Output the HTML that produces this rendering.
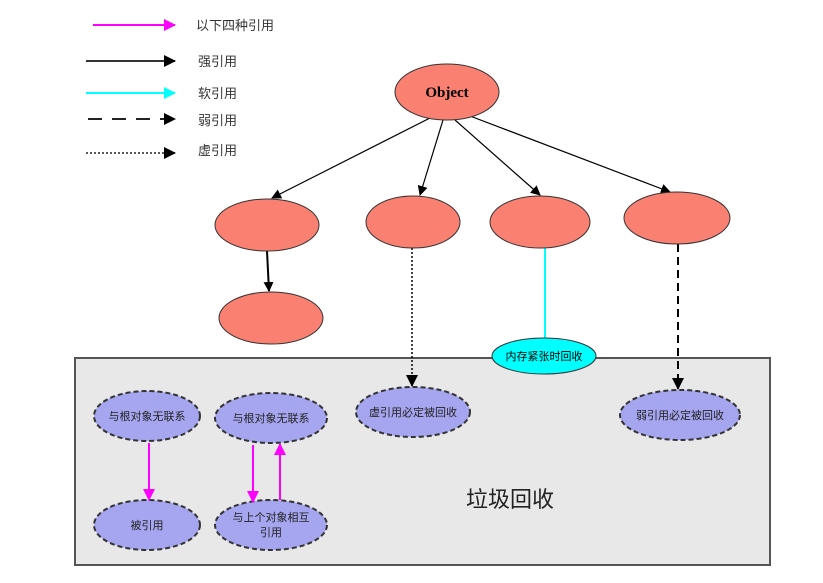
<!DOCTYPE html>
<html><head><meta charset="utf-8"><style>body{margin:0;background:#fff}svg{display:block}text{font-family:"Liberation Sans","Noto Sans CJK SC",sans-serif}</style></head><body>
<svg width="823" height="583" xmlns="http://www.w3.org/2000/svg">
<defs>
<marker id="ak" markerWidth="10" markerHeight="10" refX="9" refY="5" orient="auto" markerUnits="userSpaceOnUse"><path d="M0,0L10,5L0,10z" fill="#000"/></marker>
<marker id="am" markerWidth="12" markerHeight="12" refX="11" refY="6" orient="auto" markerUnits="userSpaceOnUse"><path d="M0,0L12,6L0,12z" fill="#f0f"/></marker>
<marker id="ac" markerWidth="12" markerHeight="12" refX="11" refY="6" orient="auto" markerUnits="userSpaceOnUse"><path d="M0,0L12,6L0,12z" fill="#0ff"/></marker>
<marker id="ak2" markerWidth="12" markerHeight="12" refX="11" refY="6" orient="auto" markerUnits="userSpaceOnUse"><path d="M0,0L12,6L0,12z" fill="#000"/></marker>
</defs>
<line x1="93" y1="25" x2="175" y2="25" stroke="#f0f" stroke-width="2" marker-end="url(#am)"/>
<text x="196" y="30" font-size="13" fill="#333">以下四种引用</text>
<line x1="86" y1="61" x2="175" y2="61" stroke="#333" stroke-width="2" marker-end="url(#ak2)"/>
<text x="198" y="66" font-size="13" fill="#333">强引用</text>
<line x1="86" y1="93" x2="175" y2="93" stroke="#0ff" stroke-width="2" marker-end="url(#ac)"/>
<text x="198" y="98" font-size="13" fill="#333">软引用</text>
<line x1="88" y1="119" x2="175" y2="119" stroke="#222" stroke-width="2" stroke-dasharray="14,10" marker-end="url(#ak2)"/>
<text x="198" y="125" font-size="13" fill="#333">弱引用</text>
<line x1="86" y1="153" x2="175" y2="153" stroke="#222" stroke-width="1.5" stroke-dasharray="2,2" marker-end="url(#ak2)"/>
<text x="198" y="155" font-size="13" fill="#333">虚引用</text>
<rect x="75" y="358" width="695" height="207" fill="#e8e8e8" stroke="#555" stroke-width="2"/>
<text x="510" y="507" font-size="22" fill="#222" text-anchor="middle">垃圾回收</text>
<g stroke="#000" stroke-width="1.2" marker-end="url(#ak)">
<line x1="430" y1="118" x2="272" y2="198"/>
<line x1="443" y1="120" x2="420" y2="195"/>
<line x1="455" y1="120" x2="540" y2="195"/>
<line x1="470" y1="116" x2="670" y2="192"/>
<line x1="267" y1="251" x2="269" y2="291" stroke-width="2"/>
</g>
<line x1="412" y1="248" x2="412" y2="386" stroke="#000" stroke-width="1.5" stroke-dasharray="2,2" marker-end="url(#ak2)"/>
<line x1="678" y1="244" x2="678" y2="389" stroke="#000" stroke-width="2" stroke-dasharray="8,5" marker-end="url(#ak2)"/>
<line x1="545" y1="248" x2="545" y2="340" stroke="#0ff" stroke-width="2"/>
<g fill="#fa8072" stroke="#333" stroke-width="1">
<ellipse cx="447" cy="92" rx="52" ry="28"/>
<ellipse cx="267" cy="225" rx="52" ry="26"/>
<ellipse cx="413" cy="222" rx="47" ry="26"/>
<ellipse cx="540" cy="222" rx="50" ry="26"/>
<ellipse cx="677" cy="218" rx="53" ry="26"/>
<ellipse cx="271" cy="318" rx="52" ry="26"/>
</g>
<text x="447" y="97" font-size="15" font-weight="bold" text-anchor="middle" style="font-family:'Liberation Serif',serif">Object</text>
<ellipse cx="544" cy="356" rx="52" ry="18" fill="#0ff" stroke="#333" stroke-width="1"/>
<text x="544" y="360" font-size="11" text-anchor="middle">内存紧张时回收</text>
<g fill="#a6a6f0" stroke="#333" stroke-width="2" stroke-dasharray="5,3">
<ellipse cx="147" cy="416" rx="53" ry="25"/>
<ellipse cx="271" cy="418" rx="56" ry="25"/>
<ellipse cx="413" cy="412" rx="57" ry="25"/>
<ellipse cx="680" cy="415" rx="60" ry="25"/>
<ellipse cx="147" cy="525" rx="53" ry="25"/>
<ellipse cx="271" cy="525" rx="56" ry="25"/>
</g>
<g font-size="11" text-anchor="middle" fill="#222">
<text x="147" y="420">与根对象无联系</text>
<text x="271" y="422">与根对象无联系</text>
<text x="413" y="416">虚引用必定被回收</text>
<text x="680" y="419">弱引用必定被回收</text>
<text x="147" y="529">被引用</text>
<text x="271" y="521">与上个对象相互</text>
<text x="271" y="536">引用</text>
</g>
<g stroke="#f0f" stroke-width="2">
<line x1="149" y1="443" x2="149" y2="500" marker-end="url(#am)"/>
<line x1="253" y1="445" x2="253" y2="502" marker-end="url(#am)"/>
<line x1="280" y1="500" x2="280" y2="444" marker-end="url(#am)"/>
</g>
</svg>
</body></html>
